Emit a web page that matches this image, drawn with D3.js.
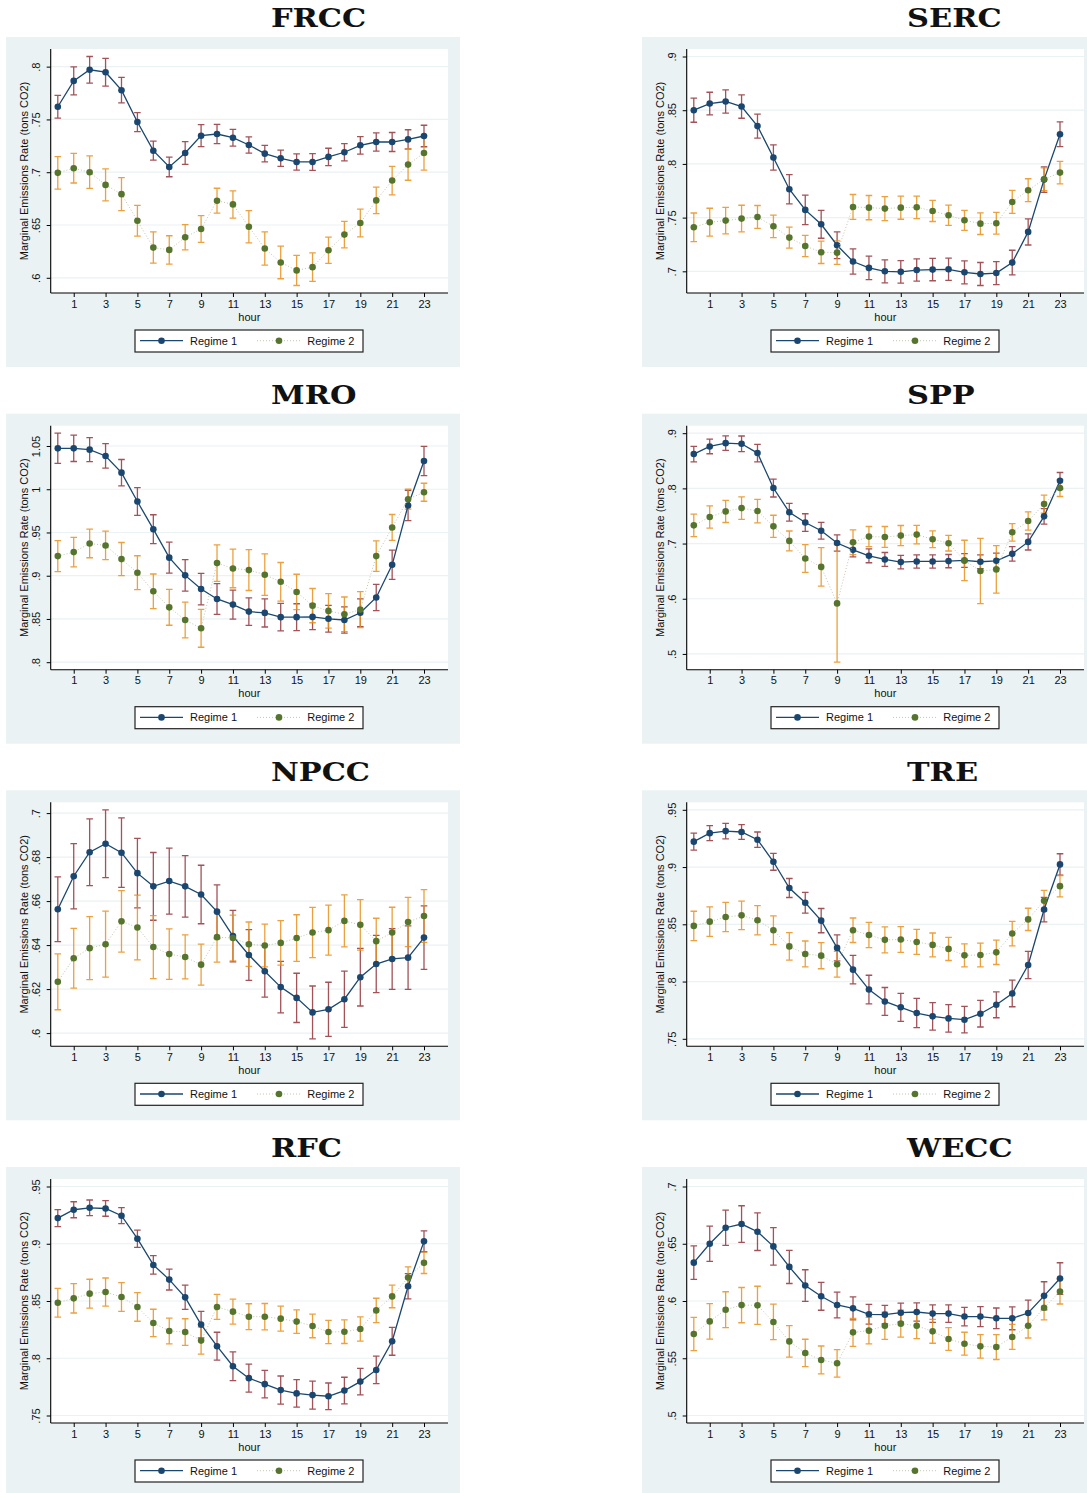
<!DOCTYPE html>
<html>
<head>
<meta charset="utf-8">
<script src="https://d3js.org/d3.v7.min.js"></script>
<style>
body { margin: 0; background: #fff; }
svg { display: block; }
</style>
</head>
<body>
<div id="chart"></div>
<script>
var hours = [0, 1, 2, 3, 4, 5, 6, 7, 8, 9, 10, 11, 12, 13, 14, 15, 16, 17, 18, 19, 20, 21, 22, 23];
var xTicks = [1, 3, 5, 7, 9, 11, 13, 15, 17, 19, 21, 23];
var seriesNames = ["Regime 1", "Regime 2"];
var yTitle = "Marginal Emissions Rate (tons CO2)";
var xTitle = "hour";

// point estimates and half-width of the confidence interval, per hour
var frccReg1 = [.762, .7865, .797, .7947, .7777, .7475, .7204, .705, .7182, .7346, .7362, .7327, .7258, .7176, .7132, .7097, .7097, .7145, .7189, .7255, .7286, .7286, .7311, .7343];
var frccReg1Ci = [.0107, .0132, .0126, .0132, .0121, .009, .009, .0093, .0107, .0104, .0091, .0079, .0077, .0079, .0077, .0077, .0079, .0082, .0082, .0083, .0086, .009, .0091, .0102];
var frccReg2 = [.6994, .7038, .7, .688, .6792, .654, .6286, .6264, .6384, .6462, .673, .6695, .6484, .6277, .6145, .607, .6101, .6261, .6409, .6519, .6733, .6921, .7072, .7182];
var frccReg2Ci = [.0154, .014, .0154, .0151, .0156, .0145, .0148, .0134, .012, .0127, .0118, .0129, .0153, .0157, .0154, .0143, .0135, .0124, .0126, .0131, .0125, .0135, .0148, .0162];
var frccTicks = [.6, .65, .7, .75, .8];

var sercReg1 = [.85, .8562, .8581, .8534, .8352, .806, .7764, .7572, .7438, .7243, .7091, .7032, .7, .6995, .7012, .7016, .7019, .6991, .6975, .6984, .7081, .7367, .7854, .8276];
var sercReg1Ci = [.0112, .0105, .0109, .0109, .0112, .0118, .0136, .0138, .013, .0124, .0118, .011, .0107, .0104, .0104, .0104, .0104, .0107, .0107, .0107, .0115, .0122, .0119, .0115];
var sercReg2 = [.741, .7457, .7472, .7491, .7506, .7419, .7314, .7236, .7177, .7174, .7599, .7593, .7584, .7593, .7596, .7562, .7522, .7475, .7444, .7447, .7646, .7755, .7857, .7919];
var sercReg2Ci = [.0133, .013, .0124, .0124, .0107, .0105, .0098, .0099, .0104, .011, .0116, .0113, .0112, .0108, .0105, .0098, .0095, .0093, .0101, .0101, .0107, .0107, .0107, .0104];
var sercTicks = [.7, .75, .8, .85, .9];

var mroReg1 = [1.0473, 1.0473, 1.0458, 1.0385, 1.0192, .9858, .9538, .9209, .9004, .8846, .8731, .8666, .8585, .857, .8521, .8521, .8524, .8502, .8488, .8572, .8749, .9126, .9812, 1.0326];
var mroReg1Ci = [.0175, .0152, .0138, .0142, .0152, .0161, .0167, .0179, .0182, .0182, .0177, .0167, .0159, .0163, .0159, .0155, .0148, .0154, .0152, .0161, .0152, .0169, .0175, .0169];
var mroReg2 = [.9227, .9273, .9373, .935, .9192, .9035, .882, .8634, .8488, .8392, .9146, .9084, .9065, .9012, .893, .8812, .8654, .8593, .8554, .8608, .9227, .9558, .9885, .9965];
var mroReg2Ci = [.0179, .0171, .0165, .0165, .0192, .0196, .02, .0207, .0207, .0219, .0211, .0223, .0236, .024, .0223, .0205, .0198, .02, .02, .0209, .0177, .015, .0115, .0104];
var mroTicks = [.8, .85, .9, .95, 1, 1.05];

var sppReg1 = [.8622, .876, .882, .8808, .864, .8006, .7568, .7381, .7232, .701, .6886, .6778, .6712, .6664, .6676, .6676, .6682, .6694, .667, .6688, .6814, .703, .7493, .8138];
var sppReg1Ci = [.0141, .0132, .0132, .0141, .0159, .0162, .0162, .0159, .0153, .0147, .0126, .0126, .0126, .0123, .012, .012, .012, .0125, .0125, .0138, .0132, .0147, .0141, .015];
var sppReg2 = [.733, .7481, .7583, .7643, .7589, .7312, .7048, .673, .6577, .5916, .7024, .7126, .712, .7144, .7162, .7078, .7006, .6694, .6502, .6532, .7204, .7409, .7715, .8006];
var sppReg2Ci = [.0204, .0201, .0201, .0204, .0213, .0201, .018, .0252, .0348, .1066, .0225, .0183, .0189, .0183, .0168, .0153, .0141, .0366, .0592, .0429, .0159, .0165, .0162, .0153];
var sppTicks = [.5, .6, .7, .8, .9];

var npccReg1 = [.6563, .6713, .6822, .6861, .682, .6727, .6667, .6691, .6667, .663, .6552, .6441, .6355, .6281, .6209, .616, .6094, .6108, .6154, .6254, .6314, .6337, .6343, .6434];
var npccReg1Ci = [.0147, .0148, .0152, .0154, .0158, .0158, .0154, .015, .014, .0133, .0122, .0117, .0115, .0118, .0117, .0112, .012, .0123, .0128, .0131, .013, .0138, .0144, .0144];
var npccReg2 = [.6233, .634, .6386, .6404, .6508, .648, .6391, .6359, .6346, .6311, .6436, .6432, .6404, .6398, .641, .6432, .6457, .6468, .651, .6492, .6418, .6457, .6505, .6532];
var npccReg2Ci = [.0127, .0136, .0143, .015, .014, .0147, .0143, .0115, .01, .0093, .0113, .0104, .0101, .0097, .0101, .0106, .0114, .0114, .0118, .0115, .0104, .0115, .0112, .012];
var npccTicks = [.6, .62, .64, .66, .68, .7];

var treReg1 = [.9222, .9296, .9314, .9306, .9239, .9046, .8817, .8688, .8532, .8294, .8104, .793, .7826, .7775, .7725, .7696, .7678, .7667, .7719, .7797, .7896, .8145, .8629, .9023];
var treReg1Ci = [.0074, .0065, .0068, .0064, .0067, .0074, .0083, .0091, .0106, .0114, .0125, .0125, .0122, .0122, .0128, .012, .012, .0116, .0116, .0113, .0116, .0119, .0107, .0093];
var treReg2 = [.8486, .8523, .8564, .8578, .8535, .8448, .8307, .8241, .8226, .8151, .8448, .8407, .8364, .8367, .8346, .832, .8285, .8229, .8232, .8255, .8419, .8543, .8706, .8833];
var treReg2Ci = [.0128, .0129, .0128, .0125, .0128, .0125, .012, .0113, .0114, .0113, .0107, .011, .0113, .0113, .0109, .0104, .0101, .01, .0103, .0106, .0107, .0097, .0091, .0093];
var treTicks = [.75, .8, .85, .9, .95];

var rfcReg1 = [.9224, .9297, .9314, .9308, .9245, .9044, .8815, .8687, .8532, .8294, .8105, .793, .7826, .7774, .7722, .7693, .7678, .7668, .7718, .7796, .7898, .8148, .8629, .9021];
var rfcReg1Ci = [.0074, .007, .0068, .0068, .007, .0075, .0081, .0091, .0106, .0116, .0122, .0125, .0122, .012, .0123, .012, .0122, .0116, .0116, .0116, .012, .0122, .011, .0091];
var rfcReg2 = [.8485, .8523, .8564, .8578, .8535, .8448, .8308, .8238, .8229, .8154, .8448, .8407, .8363, .8363, .8346, .832, .8282, .8229, .8232, .8255, .8418, .854, .8705, .8833];
var rfcReg2Ci = [.0125, .0128, .0126, .0123, .0126, .0125, .012, .0113, .0116, .0118, .0109, .0109, .0113, .0115, .0109, .0103, .0103, .0102, .0103, .0106, .0106, .0099, .0093, .0093];
var rfcTicks = [.75, .8, .85, .9, .95];

var weccReg1 = [.6335, .65, .664, .6672, .6605, .6477, .6298, .6135, .6041, .5965, .5936, .5884, .5881, .5898, .5904, .589, .589, .5864, .5864, .5849, .5849, .5895, .6045, .6196];
var weccReg1Ci = [.0147, .0154, .0154, .016, .0164, .0163, .0145, .0138, .0122, .0112, .01, .0086, .0081, .0083, .008, .0077, .0077, .0081, .0087, .009, .01, .0113, .0123, .0138];
var weccReg2 = [.5712, .5822, .5924, .5964, .5962, .5817, .5647, .5546, .5485, .5456, .5726, .5741, .5784, .5802, .5784, .5735, .5668, .5627, .5604, .5598, .5686, .5784, .5941, .6083];
var weccReg2Ci = [.0145, .0155, .0157, .0154, .0167, .0155, .0138, .012, .0122, .012, .0122, .0116, .0119, .0118, .0112, .0104, .01, .01, .0103, .0109, .0109, .0107, .0106, .0109];
var weccTicks = [.5, .55, .6, .65, .7];

var panels = [
    { name: "FRCC", r1: frccReg1, r1ci: frccReg1Ci, r2: frccReg2, r2ci: frccReg2Ci, ticks: frccTicks },
    { name: "SERC", r1: sercReg1, r1ci: sercReg1Ci, r2: sercReg2, r2ci: sercReg2Ci, ticks: sercTicks },
    { name: "MRO", r1: mroReg1, r1ci: mroReg1Ci, r2: mroReg2, r2ci: mroReg2Ci, ticks: mroTicks },
    { name: "SPP", r1: sppReg1, r1ci: sppReg1Ci, r2: sppReg2, r2ci: sppReg2Ci, ticks: sppTicks },
    { name: "NPCC", r1: npccReg1, r1ci: npccReg1Ci, r2: npccReg2, r2ci: npccReg2Ci, ticks: npccTicks },
    { name: "TRE", r1: treReg1, r1ci: treReg1Ci, r2: treReg2, r2ci: treReg2Ci, ticks: treTicks },
    { name: "RFC", r1: rfcReg1, r1ci: rfcReg1Ci, r2: rfcReg2, r2ci: rfcReg2Ci, ticks: rfcTicks },
    { name: "WECC", r1: weccReg1, r1ci: weccReg1Ci, r2: weccReg2, r2ci: weccReg2Ci, ticks: weccTicks }
];

var width = 1087, height = 1493;
var panelW = 454, panelH = 330;
var colX = [6, 642];
var rowY = [37, 413.7, 790.3, 1167];
var plot = { left: 44.7, right: 442, top: 12, bottom: 256 };
var pad = 7.5;

var bgColor = "#eaf2f3";
var navy = "#1a476f", maroon = "#90353b", green = "#55752f", orange = "#e8901c";
var dotLine = "#c4c6b0";
var font = "'Liberation Sans', Arial, sans-serif";

var svg = d3.select("#chart").append("svg")
    .attr("width", width)
    .attr("height", height);

// stata style labels: .8 instead of 0.8
function fmt(d) {
    return d3.format(".2~f")(d).replace(/^0\./, ".");
}

panels.forEach(function (p, i) {
    var g = svg.append("g")
        .attr("transform", "translate(" + colX[i % 2] + "," + rowY[Math.floor(i / 2)] + ")");

    g.append("rect")
        .attr("width", panelW)
        .attr("height", panelH)
        .attr("fill", bgColor);

    g.append("g")
        .attr("transform", "translate(265,-9.7) scale(1.17,1)")
        .append("text")
        .attr("font-family", "'DejaVu Serif', serif")
        .attr("font-weight", "bold")
        .attr("font-size", "26px")
        .attr("fill", "#111")
        .text(p.name);

    g.append("rect")
        .attr("x", plot.left)
        .attr("y", plot.top)
        .attr("width", plot.right - plot.left)
        .attr("height", plot.bottom - plot.top)
        .attr("fill", "#fff");

    var s1 = hours.map(function (h) {
        return { h: h, v: p.r1[h], lo: p.r1[h] - p.r1ci[h], hi: p.r1[h] + p.r1ci[h] };
    });
    var s2 = hours.map(function (h) {
        return { h: h, v: p.r2[h], lo: p.r2[h] - p.r2ci[h], hi: p.r2[h] + p.r2ci[h] };
    });
    var all = s1.concat(s2);

    var x = d3.scaleLinear().domain([0, 23]).range([51.8, 418]);
    var yMin = Math.min(d3.min(all, function (d) { return d.lo; }), p.ticks[0]);
    var yMax = Math.max(d3.max(all, function (d) { return d.hi; }), p.ticks[p.ticks.length - 1]);
    var y = d3.scaleLinear().domain([yMin, yMax]).range([plot.bottom - pad, plot.top + pad]);

    // gridlines
    g.selectAll(".grid")
        .data(p.ticks)
        .enter().append("line")
        .attr("x1", plot.left)
        .attr("x2", plot.right)
        .attr("y1", function (d) { return y(d); })
        .attr("y2", function (d) { return y(d); })
        .attr("stroke", bgColor)
        .attr("stroke-width", 1.2);

    // y axis
    var yAxis = g.append("g")
        .attr("transform", "translate(" + plot.left + ",0)")
        .call(d3.axisLeft(y).tickValues(p.ticks).tickSize(4).tickSizeOuter(0).tickFormat(fmt));
    yAxis.select(".domain").remove();
    yAxis.selectAll("line").attr("stroke", "#000");
    yAxis.selectAll("text")
        .attr("transform", "rotate(-90)")
        .attr("text-anchor", "middle")
        .attr("x", 0)
        .attr("y", -10.7)
        .attr("dy", null)
        .attr("font-family", font)
        .attr("font-size", "11px")
        .attr("fill", "#111");

    // x axis
    var xAxis = g.append("g")
        .attr("transform", "translate(0," + plot.bottom + ")")
        .call(d3.axisBottom(x).tickValues(xTicks).tickSize(4).tickSizeOuter(0));
    xAxis.select(".domain").remove();
    xAxis.selectAll("line").attr("stroke", "#000");
    xAxis.selectAll("text")
        .attr("y", 14.6)
        .attr("dy", null)
        .attr("font-family", font)
        .attr("font-size", "11px")
        .attr("fill", "#111");

    g.append("line")
        .attr("x1", plot.left).attr("x2", plot.left)
        .attr("y1", plot.top).attr("y2", plot.bottom)
        .attr("stroke", "#000").attr("stroke-width", 1.1);
    g.append("line")
        .attr("x1", plot.left).attr("x2", plot.right)
        .attr("y1", plot.bottom).attr("y2", plot.bottom)
        .attr("stroke", "#000").attr("stroke-width", 1.1);

    g.append("text")
        .attr("transform", "translate(22," + (plot.top + plot.bottom) / 2 + ") rotate(-90)")
        .attr("text-anchor", "middle")
        .attr("font-family", font)
        .attr("font-size", "11px")
        .attr("fill", "#111")
        .text(yTitle);

    g.append("text")
        .attr("x", (plot.left + plot.right) / 2)
        .attr("y", 283.5)
        .attr("text-anchor", "middle")
        .attr("font-family", font)
        .attr("font-size", "11px")
        .attr("fill", "#111")
        .text(xTitle);

    // confidence interval caps
    [[s1, maroon], [s2, orange]].forEach(function (s) {
        var bars = g.append("g")
            .attr("stroke", s[1])
            .attr("stroke-width", 1.3)
            .attr("stroke-opacity", 0.85)
            .attr("fill", "none");
        bars.selectAll("path")
            .data(s[0])
            .enter().append("path")
            .attr("d", function (d) {
                var cx = x(d.h), y0 = y(d.lo), y1 = y(d.hi);
                return "M" + (cx - 3.3) + "," + y1 + "H" + (cx + 3.3) +
                    "M" + cx + "," + y1 + "V" + y0 +
                    "M" + (cx - 3.3) + "," + y0 + "H" + (cx + 3.3);
            });
    });

    var line = d3.line()
        .x(function (d) { return x(d.h); })
        .y(function (d) { return y(d.v); });

    g.append("path")
        .datum(s1)
        .attr("d", line)
        .attr("fill", "none")
        .attr("stroke", navy)
        .attr("stroke-width", 1.3);
    g.selectAll(".dot1")
        .data(s1)
        .enter().append("circle")
        .attr("cx", function (d) { return x(d.h); })
        .attr("cy", function (d) { return y(d.v); })
        .attr("r", 3.3)
        .attr("fill", navy);

    g.append("path")
        .datum(s2)
        .attr("d", line)
        .attr("fill", "none")
        .attr("stroke", dotLine)
        .attr("stroke-width", 1)
        .attr("stroke-dasharray", "1,2");
    g.selectAll(".dot2")
        .data(s2)
        .enter().append("circle")
        .attr("cx", function (d) { return x(d.h); })
        .attr("cy", function (d) { return y(d.v); })
        .attr("r", 3.3)
        .attr("fill", green);

    // legend
    var leg = g.append("g");
    leg.append("rect")
        .attr("x", 129).attr("y", 293)
        .attr("width", 228).attr("height", 22)
        .attr("fill", "#fff")
        .attr("stroke", "#222")
        .attr("stroke-width", 1.2);
    leg.append("line")
        .attr("x1", 134).attr("x2", 177).attr("y1", 303.7).attr("y2", 303.7)
        .attr("stroke", navy).attr("stroke-width", 1.3);
    leg.append("circle").attr("cx", 155.5).attr("cy", 303.7).attr("r", 3.3).attr("fill", navy);
    leg.append("line")
        .attr("x1", 251).attr("x2", 294).attr("y1", 303.7).attr("y2", 303.7)
        .attr("stroke", dotLine).attr("stroke-width", 1).attr("stroke-dasharray", "1,2");
    leg.append("circle").attr("cx", 273).attr("cy", 303.7).attr("r", 3.3).attr("fill", green);
    leg.selectAll(".lt")
        .data(seriesNames)
        .enter().append("text")
        .attr("x", function (d, k) { return k == 0 ? 184 : 301.3; })
        .attr("y", 307.8)
        .attr("font-family", font)
        .attr("font-size", "11px")
        .attr("fill", "#111")
        .text(function (d) { return d; });
});
</script>
</body>
</html>
